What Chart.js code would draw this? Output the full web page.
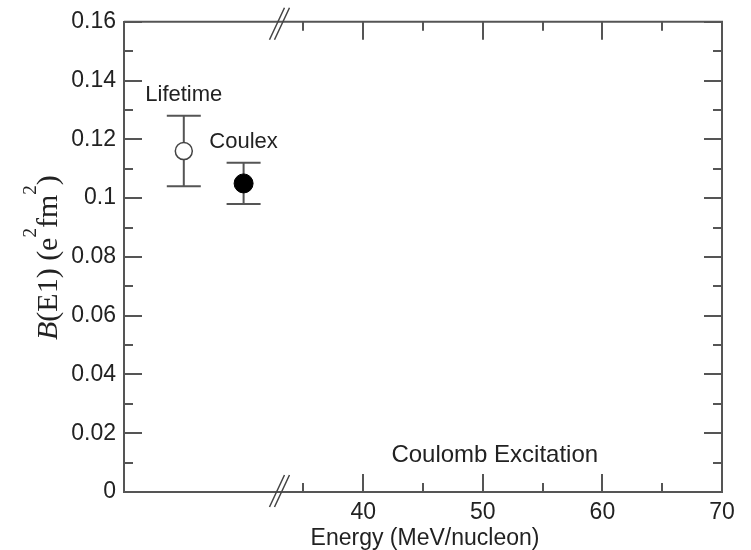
<!DOCTYPE html>
<html><head><meta charset="utf-8">
<script src="https://cdn.jsdelivr.net/npm/chart.js@4.4.1/dist/chart.umd.min.js"></script>
<style>html,body{margin:0;padding:0;background:#fff}#wrap{width:751px;height:550px}canvas{display:block}</style>
</head><body><div id="wrap"><canvas id="c" width="751" height="550"></canvas></div>
<script>
// ---- data ----
const pointLabels = ['Lifetime', 'Coulex'];
const energies = [25, 30];
const bE1 = [0.116, 0.105];
const errUp = [0.128, 0.112];
const errDown = [0.104, 0.098];
const yMajorTicks = [0, 0.02, 0.04, 0.06, 0.08, 0.10, 0.12, 0.14, 0.16];
const yMinorTicks = [0.01, 0.03, 0.05, 0.07, 0.09, 0.11, 0.13, 0.15];
const xMajorTicks = [40, 50, 60, 70];
const xMinorTicks = [35, 45, 55, 65];
const xBreak = 33;
const xRange = [20, 70];
const yRange = [0, 0.16];
const noteText = 'Coulomb Excitation';
const notePos = [51, 0.0125];
const xTitle = 'Energy (MeV/nucleon)';

const AXIS = '#555';
const TEXT = '#222';
const SANS = '"Liberation Sans", Arial, Helvetica, sans-serif';
const SERIF = '"Liberation Serif", "Times New Roman", serif';

const fmt = v => String(+(+v).toFixed(2));

const decor = {
  id: 'decor',
  beforeDatasetsDraw(chart) {
    const ctx = chart.ctx, xs = chart.scales.x, ys = chart.scales.y;
    ctx.save();
    ctx.strokeStyle = '#555';
    ctx.lineWidth = 2;
    for (let i = 0; i < energies.length; i++) {
      const px = xs.getPixelForValue(energies[i]);
      const pt = ys.getPixelForValue(errUp[i]);
      const pb = ys.getPixelForValue(errDown[i]);
      ctx.beginPath();
      ctx.moveTo(px, pt); ctx.lineTo(px, pb);
      ctx.moveTo(px - 17, pt); ctx.lineTo(px + 17, pt);
      ctx.moveTo(px - 17, pb); ctx.lineTo(px + 17, pb);
      ctx.stroke();
    }
    ctx.restore();
  },
  afterDraw(chart) {
    const ctx = chart.ctx, xs = chart.scales.x, ys = chart.scales.y;
    const a = chart.chartArea;
    ctx.save();
    // frame top/right
    ctx.strokeStyle = AXIS;
    ctx.lineWidth = 2;
    ctx.beginPath();
    ctx.moveTo(a.left, a.top); ctx.lineTo(a.right, a.top); ctx.lineTo(a.right, a.bottom);
    ctx.stroke();
    // ticks (inward, all four sides)
    ctx.beginPath();
    const tick = (vals, len) => vals.forEach(v => {
      const py = Math.round(ys.getPixelForValue(v));
      ctx.moveTo(a.left, py); ctx.lineTo(a.left + len, py);
      ctx.moveTo(a.right, py); ctx.lineTo(a.right - len, py);
    });
    tick(yMajorTicks, 18); tick(yMinorTicks, 9);
    const xtick = (vals, len) => vals.forEach(v => {
      const px = Math.round(xs.getPixelForValue(v));
      ctx.moveTo(px, a.bottom); ctx.lineTo(px, a.bottom - len);
      ctx.moveTo(px, a.top); ctx.lineTo(px, a.top + len);
    });
    xtick(xMajorTicks, 18); xtick(xMinorTicks, 9);
    ctx.stroke();
    // axis break marks
    const bx = xs.getPixelForValue(xBreak);
    ctx.lineWidth = 1.5;
    ctx.strokeStyle = '#444';
    ctx.beginPath();
    [a.top + 2, a.bottom - 1].forEach(cy => {
      [-2.5, 2.5].forEach(o => {
        ctx.moveTo(bx + o - 7.5, cy + 16);
        ctx.lineTo(bx + o + 7.5, cy - 16);
      });
    });
    ctx.stroke();
    // point labels
    ctx.fillStyle = TEXT;
    ctx.textAlign = 'center';
    ctx.textBaseline = 'middle';
    ctx.font = '22px ' + SANS;
    for (let i = 0; i < energies.length; i++) {
      ctx.fillText(pointLabels[i], xs.getPixelForValue(energies[i]), ys.getPixelForValue(errUp[i]) - 21);
    }
    ctx.font = '24px ' + SANS;
    ctx.fillText(noteText, xs.getPixelForValue(notePos[0]), ys.getPixelForValue(notePos[1]));
    // x title
    ctx.font = '23px ' + SANS;
    ctx.fillText(xTitle, (a.left + a.right) / 2 + 2, 539);
    // y title (rotated, with italic B and superscripts)
    ctx.translate(57, 340);
    ctx.rotate(-Math.PI / 2);
    ctx.textAlign = 'left';
    ctx.textBaseline = 'alphabetic';
    const parts = [
      { t: 'B', f: 'italic 30px ' + SERIF, dy: 0 },
      { t: '(E1) (e', f: '30px ' + SERIF, dy: 0 },
      { t: '2', f: '19px ' + SERIF, dy: -21 },
      { t: 'fm', f: '30px ' + SERIF, dy: 0 },
      { t: '2', f: '19px ' + SERIF, dy: -21 },
      { t: ')', f: '30px ' + SERIF, dy: 0 }
    ];
    let x = 0;
    parts.forEach(p => { ctx.font = p.f; ctx.fillText(p.t, x, p.dy); x += ctx.measureText(p.t).width; });
    ctx.restore();
  }
};

new Chart(document.getElementById('c'), {
  type: 'scatter',
  data: {
    datasets: [
      { label: pointLabels[0], data: [{ x: energies[0], y: bE1[0] }], pointStyle: 'circle', pointRadius: 8.5,
        borderColor: '#444', borderWidth: 1.5, backgroundColor: '#fff' },
      { label: pointLabels[1], data: [{ x: energies[1], y: bE1[1] }], pointStyle: 'circle', pointRadius: 9.5,
        borderColor: '#000', borderWidth: 1, backgroundColor: '#000' }
    ]
  },
  options: {
    responsive: false,
    animation: false,
    layout: { padding: { left: 0, top: 20, right: 29, bottom: 0 } },
    plugins: { legend: { display: false }, tooltip: { enabled: false } },
    scales: {
      x: {
        type: 'linear', position: 'bottom', min: xRange[0], max: xRange[1],
        grid: { display: false, drawTicks: false },
        border: { display: true, color: AXIS, width: 2 },
        afterBuildTicks: s => { s.ticks = xMajorTicks.map(v => ({ value: v })); },
        afterFit: s => { s.height = 58; },
        ticks: { color: TEXT, font: { family: SANS, size: 23 }, padding: 7, maxRotation: 0, autoSkip: false,
          callback: v => String(v) }
      },
      y: {
        type: 'linear', position: 'left', min: yRange[0], max: yRange[1],
        grid: { display: false, drawTicks: false },
        border: { display: true, color: AXIS, width: 2 },
        afterBuildTicks: s => { s.ticks = yMajorTicks.map(v => ({ value: v })); },
        afterFit: s => { s.width = 124; },
        ticks: { color: TEXT, font: { family: SANS, size: 23 }, padding: 8, autoSkip: false,
          callback: v => fmt(v) }
      }
    }
  },
  plugins: [decor]
});
</script>
</body></html>
